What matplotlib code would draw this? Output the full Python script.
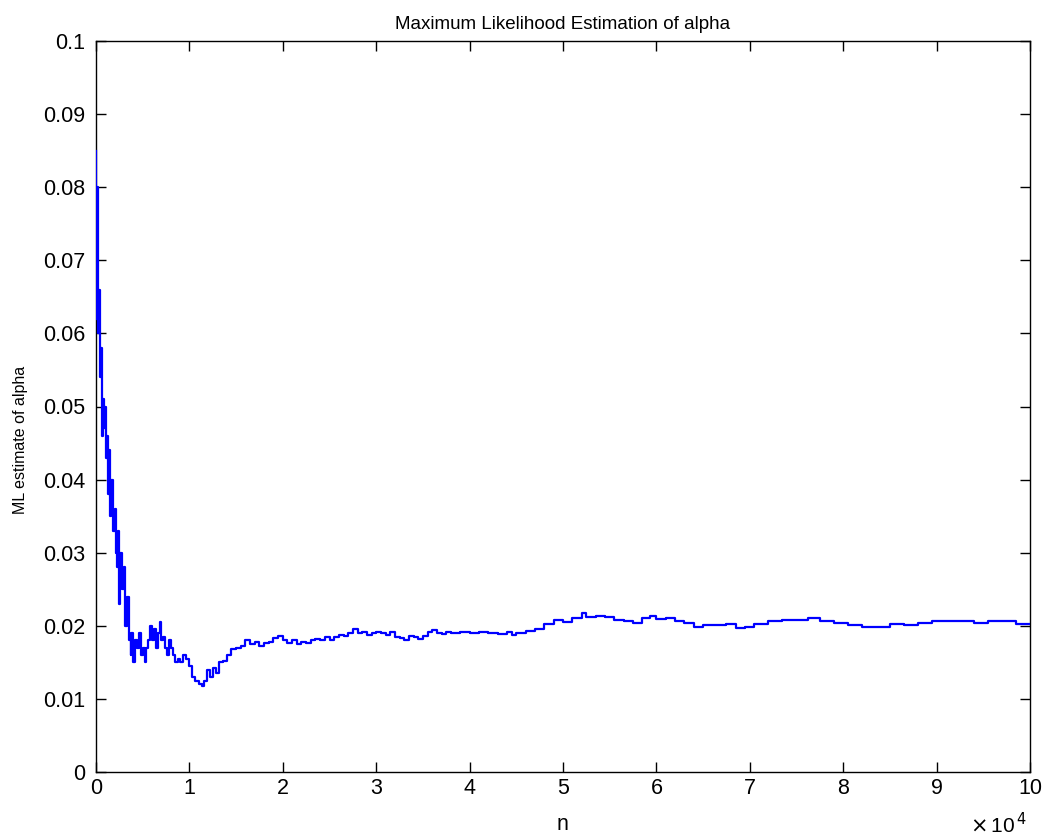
import matplotlib
matplotlib.use("Agg")
import matplotlib.pyplot as plt

# n in units of 10^4
n_1e4 = [0.00, 0.005, 0.01, 0.015, 0.02, 0.03, 0.04, 0.05, 0.06, 0.07, 0.08, 0.09, 0.10, 0.11, 0.12, 0.13,
         0.14, 0.15, 0.16, 0.18, 0.20, 0.21, 0.22, 0.24, 0.25, 0.26, 0.28, 0.30, 0.31, 0.33, 0.35, 0.37,
         0.38, 0.40, 0.42, 0.44, 0.46, 0.48, 0.50, 0.52, 0.54, 0.56, 0.58, 0.60, 0.62, 0.64, 0.66, 0.68,
         0.70, 0.72, 0.74, 0.76, 0.78, 0.80, 0.82, 0.85, 0.88, 0.90, 0.93, 0.96, 1.00, 1.03, 1.06, 1.10,
         1.13, 1.16, 1.19, 1.22, 1.25, 1.28, 1.32, 1.36, 1.40, 1.45, 1.50, 1.55, 1.60, 1.65, 1.70, 1.75,
         1.80, 1.85, 1.90, 1.95, 2.00, 2.05, 2.10, 2.15, 2.20, 2.25, 2.30, 2.35, 2.40, 2.45, 2.50, 2.55,
         2.60, 2.65, 2.70, 2.75, 2.80, 2.85, 2.90, 2.95, 3.00, 3.05, 3.10, 3.15, 3.20, 3.25, 3.30, 3.35,
         3.40, 3.45, 3.50, 3.55, 3.60, 3.65, 3.70, 3.75, 3.80, 3.90, 4.00, 4.10, 4.20, 4.30, 4.40, 4.45,
         4.50, 4.60, 4.70, 4.80, 4.90, 5.00, 5.10, 5.20, 5.25, 5.35, 5.45, 5.55, 5.65, 5.75, 5.85, 5.93,
         6.00, 6.10, 6.20, 6.30, 6.40, 6.50, 6.60, 6.75, 6.85, 6.95, 7.05, 7.20, 7.35, 7.50, 7.62, 7.75,
         7.90, 8.05, 8.20, 8.35, 8.50, 8.65, 8.80, 8.95, 9.10, 9.25, 9.40, 9.55, 9.70, 9.85, 10.0]

alpha_ml = [0.085, 0.062, 0.070, 0.080, 0.060, 0.066, 0.054, 0.058, 0.046, 0.050, 0.051, 0.047, 0.050, 0.043, 0.046, 0.038,
            0.044, 0.035, 0.040, 0.033, 0.036, 0.030, 0.028, 0.033, 0.023, 0.030, 0.025, 0.028, 0.020, 0.024, 0.018, 0.016,
            0.019, 0.015, 0.018, 0.017, 0.019, 0.016, 0.017, 0.015, 0.017, 0.018, 0.020, 0.018, 0.0195, 0.017, 0.019, 0.0205,
            0.018, 0.0185, 0.017, 0.016, 0.018, 0.017, 0.016, 0.015, 0.0155, 0.015, 0.016, 0.0155, 0.0145, 0.013, 0.0125, 0.012,
            0.0118, 0.0125, 0.014, 0.013, 0.0142, 0.0135, 0.015, 0.0152, 0.016, 0.0168, 0.017, 0.0172, 0.018, 0.0175, 0.0178, 0.0172,
            0.0176, 0.0178, 0.0183, 0.0186, 0.018, 0.0177, 0.018, 0.0175, 0.0178, 0.0176, 0.018, 0.0182, 0.0181, 0.0184, 0.018, 0.0185,
            0.0188, 0.0186, 0.019, 0.0195, 0.019, 0.0192, 0.0187, 0.019, 0.0191, 0.019, 0.0188, 0.0191, 0.0185, 0.0183, 0.018, 0.0186,
            0.0185, 0.0182, 0.0186, 0.0192, 0.0194, 0.019, 0.0189, 0.0191, 0.019, 0.0191, 0.019, 0.0192, 0.019, 0.0189, 0.0191, 0.0187,
            0.019, 0.0193, 0.0195, 0.0203, 0.0208, 0.0205, 0.021, 0.0218, 0.0212, 0.0214, 0.0212, 0.0208, 0.0207, 0.0204, 0.021, 0.0214,
            0.0209, 0.021, 0.0206, 0.0204, 0.0198, 0.0201, 0.0201, 0.0202, 0.0197, 0.0199, 0.0203, 0.0206, 0.0208, 0.0208, 0.0211, 0.0206,
            0.0204, 0.0201, 0.0198, 0.0199, 0.0202, 0.0201, 0.0204, 0.0207, 0.0206, 0.0206, 0.0204, 0.0207, 0.0206, 0.0203, 0.0202]

x_ticks = [0, 1, 2, 3, 4, 5, 6, 7, 8, 9, 10]
y_ticks = [0, 0.01, 0.02, 0.03, 0.04, 0.05, 0.06, 0.07, 0.08, 0.09, 0.1]
y_tick_labels = ["0", "0.01", "0.02", "0.03", "0.04", "0.05", "0.06", "0.07", "0.08", "0.09", "0.1"]

plt.rcParams['font.family'] = ['Liberation Sans', 'DejaVu Sans']

W, H = 1044, 839
fig = plt.figure(figsize=(W / 100, H / 100), dpi=100)
ax_left, ax_right, ax_top, ax_bottom = 96, 1030, 41, 772
ax = fig.add_axes([ax_left / W, 1 - ax_bottom / H, (ax_right - ax_left) / W, (ax_bottom - ax_top) / H])
ax_w = ax_right - ax_left
ax_h = ax_bottom - ax_top

ax.plot(n_1e4, alpha_ml, color=(0, 0, 1), linewidth=1.6, drawstyle='steps-post', zorder=3)

ax.set_xlim(0, 10)
ax.set_ylim(0, 0.1)
ax.set_xticks(x_ticks)
ax.set_xticklabels([str(t) for t in x_ticks])
ax.set_yticks(y_ticks)
ax.set_yticklabels(y_tick_labels)
ax.tick_params(direction='in', length=7, width=1, top=True, right=True, labelsize=15.5)
ax.tick_params(axis='y', pad=8)
ax.tick_params(axis='x', pad=4)
for s in ax.spines.values():
    s.set_linewidth(1.0)

ax.set_title("Maximum Likelihood Estimation of alpha", fontsize=13.5, pad=8.5)

ax.set_xlabel("n", fontsize=15.5, va='baseline')
ax.xaxis.set_label_coords(0.5, -(830 - ax_bottom) / ax_h)

ax.set_ylabel("ML estimate of alpha", fontsize=11.5)
ax.yaxis.set_label_coords(-(ax_left - 28) / ax_w, (ax_bottom - 440) / ax_h)

fig.text(999 / W, 1 - 833 / H, r"$\times\,$10$^{\,4}$", fontsize=15, ha='center', va='baseline')

fig.savefig("out.png", dpi=100)
